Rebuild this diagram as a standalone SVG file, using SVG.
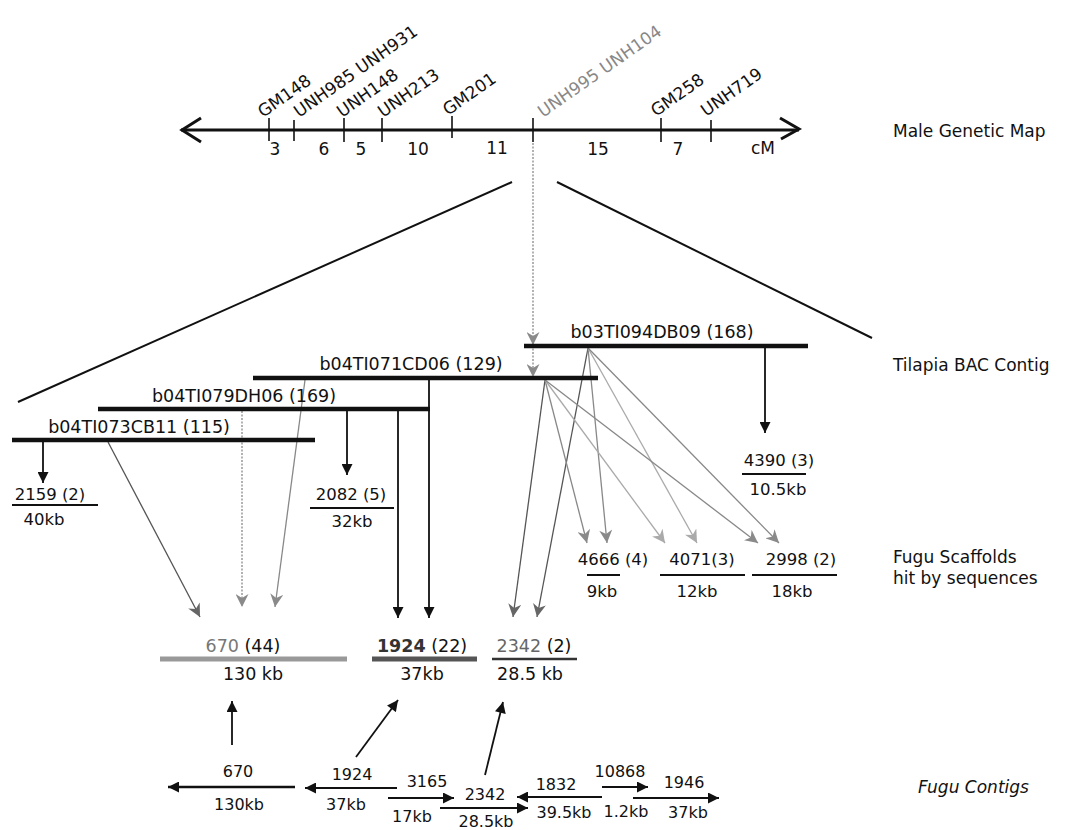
<svg xmlns="http://www.w3.org/2000/svg" width="1077" height="830" viewBox="0 0 1077 830">
<style>
text{font-family:"DejaVu Sans","Verdana",sans-serif;fill:#111}
.m{font-size:17px}
.r{font-size:17px}
.b{font-size:17.5px}
.s{font-size:16.5px}
.c{font-size:16px}
.mid{text-anchor:middle}
.ax{stroke:#111;stroke-width:3;fill:none}
.tk{stroke:#111;stroke-width:1.6}
.bar{stroke:#111;stroke-width:4.5}
.ul{stroke:#111;stroke-width:2}
.k{stroke:#111;stroke-width:1.8;fill:none}
.g1{stroke:#555;stroke-width:1.3;fill:none}
.g2{stroke:#888;stroke-width:1.3;fill:none}
.g3{stroke:#aaa;stroke-width:1.3;fill:none}
.dot{stroke:#999;stroke-width:1.5;stroke-dasharray:2 1.5;fill:none}
</style>
<defs>
<marker id="ak" viewBox="0 0 10 10" refX="10" refY="5" markerWidth="12" markerHeight="11" markerUnits="userSpaceOnUse" orient="auto"><path d="M0,0 L10,5 L0,10 z" fill="#111"/></marker>
<marker id="ag1" viewBox="0 0 10 10" refX="10" refY="5" markerWidth="14" markerHeight="13" markerUnits="userSpaceOnUse" orient="auto"><path d="M0,0 L10,5 L0,10 L3,5 z" fill="#666"/></marker>
<marker id="ag2" viewBox="0 0 10 10" refX="10" refY="5" markerWidth="14" markerHeight="13" markerUnits="userSpaceOnUse" orient="auto"><path d="M0,0 L10,5 L0,10 L3,5 z" fill="#8a8a8a"/></marker>
<marker id="ag3" viewBox="0 0 10 10" refX="10" refY="5" markerWidth="14" markerHeight="13" markerUnits="userSpaceOnUse" orient="auto"><path d="M0,0 L10,5 L0,10 L3,5 z" fill="#aaa"/></marker>
</defs>

<g id="genetic-map">
<line class="ax" x1="181" y1="130" x2="799" y2="130"/>
<polyline class="ax" points="201,118 182,130 201,142"/>
<polyline class="ax" points="780,118 799,129 781,139"/>
<line class="tk" x1="269" y1="118" x2="269" y2="141"/>
<line class="tk" x1="294" y1="120" x2="294" y2="141"/>
<line class="tk" x1="344" y1="118" x2="344" y2="142"/>
<line class="tk" x1="382" y1="118" x2="382" y2="142"/>
<line class="tk" x1="452" y1="116" x2="452" y2="138"/>
<line class="tk" x1="533" y1="118" x2="533" y2="142"/>
<line class="tk" x1="661" y1="118" x2="661" y2="142"/>
<line class="tk" x1="711" y1="120" x2="711" y2="142"/>
<text class="m" x="263" y="118" transform="rotate(-35 263 118)">GM148</text>
<text class="m" x="299" y="118" transform="rotate(-35 299 118)">UNH985 UNH931</text>
<text class="m" x="342" y="118" transform="rotate(-35 342 118)">UNH148</text>
<text class="m" x="383" y="118" transform="rotate(-35 383 118)">UNH213</text>
<text class="m" x="448" y="116" transform="rotate(-35 448 116)">GM201</text>
<text class="m" x="543" y="118" transform="rotate(-35 543 118)" style="fill:#888">UNH995 UNH104</text>
<text class="m" x="656" y="117" transform="rotate(-35 656 117)">GM258</text>
<text class="m" x="706" y="117" transform="rotate(-35 706 117)">UNH719</text>
<text class="m mid" x="275" y="155">3</text>
<text class="m mid" x="324" y="155">6</text>
<text class="m mid" x="361" y="155">5</text>
<text class="m mid" x="418" y="155">10</text>
<text class="m mid" x="497" y="154">11</text>
<text class="m mid" x="598" y="155">15</text>
<text class="m mid" x="678" y="155">7</text>
<text class="m mid" x="763" y="154">cM</text>
</g>

<g id="row-labels">
<text class="r" x="893" y="137">Male Genetic Map</text>
<text class="r" x="893" y="371">Tilapia BAC Contig</text>
<text class="r" x="893" y="563">Fugu Scaffolds</text>
<text class="r" x="893" y="584">hit by sequences</text>
<text class="r" x="918" y="793" style="font-style:italic">Fugu Contigs</text>
</g>

<g id="connectors">
<line class="k" x1="512" y1="182" x2="18" y2="402" style="stroke-width:2"/>
<line class="k" x1="557" y1="182" x2="872" y2="338" style="stroke-width:2"/>
<line class="dot" x1="533" y1="143" x2="533" y2="345" marker-end="url(#ag2)"/>
<line class="dot" x1="533" y1="345" x2="533" y2="377" marker-end="url(#ag2)"/>
<line class="k" x1="43" y1="442" x2="43" y2="483" marker-end="url(#ak)"/>
<line class="k" x1="347" y1="411" x2="347" y2="475" marker-end="url(#ak)"/>
<line class="k" x1="765" y1="348" x2="765" y2="433" marker-end="url(#ak)"/>
<line class="k" x1="398" y1="411" x2="398" y2="618" marker-end="url(#ak)"/>
<line class="k" x1="429" y1="380" x2="429" y2="618" marker-end="url(#ak)"/>
<line class="dot" x1="242" y1="411" x2="242" y2="607" marker-end="url(#ag2)"/>
<line class="g2" x1="305" y1="380" x2="275" y2="607" marker-end="url(#ag2)"/>
<line class="g1" x1="108" y1="442" x2="200" y2="617" marker-end="url(#ag1)"/>
<line class="g1" x1="545" y1="380" x2="513" y2="617" marker-end="url(#ag1)"/>
<line class="g1" x1="588" y1="348" x2="537" y2="617" marker-end="url(#ag1)"/>
<line class="g2" x1="545" y1="380" x2="587" y2="543" marker-end="url(#ag2)"/>
<line class="g2" x1="588" y1="348" x2="607" y2="543" marker-end="url(#ag2)"/>
<line class="g3" x1="545" y1="380" x2="665" y2="543" marker-end="url(#ag3)"/>
<line class="g3" x1="588" y1="348" x2="697" y2="543" marker-end="url(#ag3)"/>
<line class="g2" x1="545" y1="380" x2="758" y2="543" marker-end="url(#ag2)"/>
<line class="g2" x1="588" y1="348" x2="779" y2="543" marker-end="url(#ag2)"/>
<line class="k" x1="232" y1="745" x2="232" y2="701" marker-end="url(#ak)"/>
<line class="k" x1="356" y1="757" x2="398" y2="700" marker-end="url(#ak)"/>
<line class="k" x1="485" y1="775" x2="503" y2="702" marker-end="url(#ak)"/>
</g>

<g id="bac-b03TI094DB09">
<line class="bar" x1="524" y1="346" x2="808" y2="346"/>
<text class="b mid" x="662" y="338">b03TI094DB09 (168)</text>
</g>
<g id="bac-b04TI071CD06">
<line class="bar" x1="253" y1="378" x2="598" y2="378"/>
<text class="b mid" x="411" y="370">b04TI071CD06 (129)</text>
</g>
<g id="bac-b04TI079DH06">
<line class="bar" x1="98" y1="409" x2="430" y2="409"/>
<text class="b mid" x="244" y="402">b04TI079DH06 (169)</text>
</g>
<g id="bac-b04TI073CB11">
<line class="bar" x1="12" y1="440" x2="315" y2="440"/>
<text class="b mid" x="139" y="433">b04TI073CB11 (115)</text>
</g>

<g id="scaf-2159">
<text class="s mid" x="50" y="500">2159 (2)</text>
<line class="ul" x1="12" y1="505" x2="98" y2="505"/>
<text class="s mid" x="44" y="525">40kb</text>
</g>
<g id="scaf-2082">
<text class="s mid" x="351" y="500">2082 (5)</text>
<line class="ul" x1="310" y1="508" x2="394" y2="508"/>
<text class="s mid" x="352" y="527">32kb</text>
</g>
<g id="scaf-4390">
<text class="s mid" x="779" y="466">4390 (3)</text>
<line class="ul" x1="742" y1="474" x2="806" y2="474"/>
<text class="s mid" x="778" y="495">10.5kb</text>
</g>
<g id="scaf-4666">
<text class="s mid" x="613" y="565">4666 (4)</text>
<line class="ul" x1="587" y1="575" x2="620" y2="575"/>
<text class="s mid" x="602" y="597">9kb</text>
</g>
<g id="scaf-4071">
<text class="s mid" x="702" y="565">4071(3)</text>
<line class="ul" x1="660" y1="575" x2="745" y2="575"/>
<text class="s mid" x="697" y="597">12kb</text>
</g>
<g id="scaf-2998">
<text class="s mid" x="801" y="565">2998 (2)</text>
<line class="ul" x1="752" y1="575" x2="837" y2="575"/>
<text class="s mid" x="792" y="597">18kb</text>
</g>

<g id="scaf-670">
<text class="b mid" x="243" y="652"><tspan style="fill:#777">670</tspan> (44)</text>
<line x1="160" y1="659" x2="347" y2="659" stroke="#999" stroke-width="5"/>
<text class="b mid" x="253" y="680">130 kb</text>
</g>
<g id="scaf-1924">
<text class="b mid" x="422" y="652"><tspan style="font-weight:bold;fill:#333">1924</tspan> (22)</text>
<line x1="372" y1="659" x2="477" y2="659" stroke="#555" stroke-width="5"/>
<text class="b mid" x="422" y="680">37kb</text>
</g>
<g id="scaf-2342">
<text class="b mid" x="534" y="652"><tspan style="fill:#666">2342</tspan> (2)</text>
<line x1="492" y1="659" x2="577" y2="659" stroke="#333" stroke-width="2.5"/>
<text class="b mid" x="530" y="680">28.5 kb</text>
</g>

<g id="contig-670">
<line class="k" x1="295" y1="787" x2="168" y2="787" style="stroke-width:2.5" marker-end="url(#ak)"/>
<text class="c mid" x="238" y="777">670</text>
<text class="c mid" x="239" y="810">130kb</text>
</g>
<g id="contig-1924">
<line class="k" x1="397" y1="788" x2="305" y2="788" marker-end="url(#ak)"/>
<text class="c mid" x="352" y="780">1924</text>
<text class="c mid" x="346" y="810">37kb</text>
</g>
<g id="contig-3165">
<line class="k" x1="388" y1="798" x2="454" y2="798" marker-end="url(#ak)"/>
<text class="c mid" x="427" y="787">3165</text>
<text class="c mid" x="412" y="822">17kb</text>
</g>
<g id="contig-2342">
<line class="k" x1="440" y1="808" x2="528" y2="808" marker-end="url(#ak)"/>
<text class="c mid" x="485" y="800">2342</text>
<text class="c mid" x="486" y="827">28.5kb</text>
</g>
<g id="contig-1832">
<line class="k" x1="602" y1="797" x2="517" y2="797" marker-end="url(#ak)"/>
<text class="c mid" x="556" y="790">1832</text>
<text class="c mid" x="564" y="818">39.5kb</text>
</g>
<g id="contig-10868">
<line class="k" x1="602" y1="787" x2="648" y2="787" marker-end="url(#ak)"/>
<text class="c mid" x="620" y="777">10868</text>
<text class="c mid" x="626" y="817">1.2kb</text>
</g>
<g id="contig-1946">
<line class="k" x1="633" y1="798" x2="719" y2="798" marker-end="url(#ak)"/>
<text class="c mid" x="684" y="788">1946</text>
<text class="c mid" x="688" y="818">37kb</text>
</g>
</svg>
